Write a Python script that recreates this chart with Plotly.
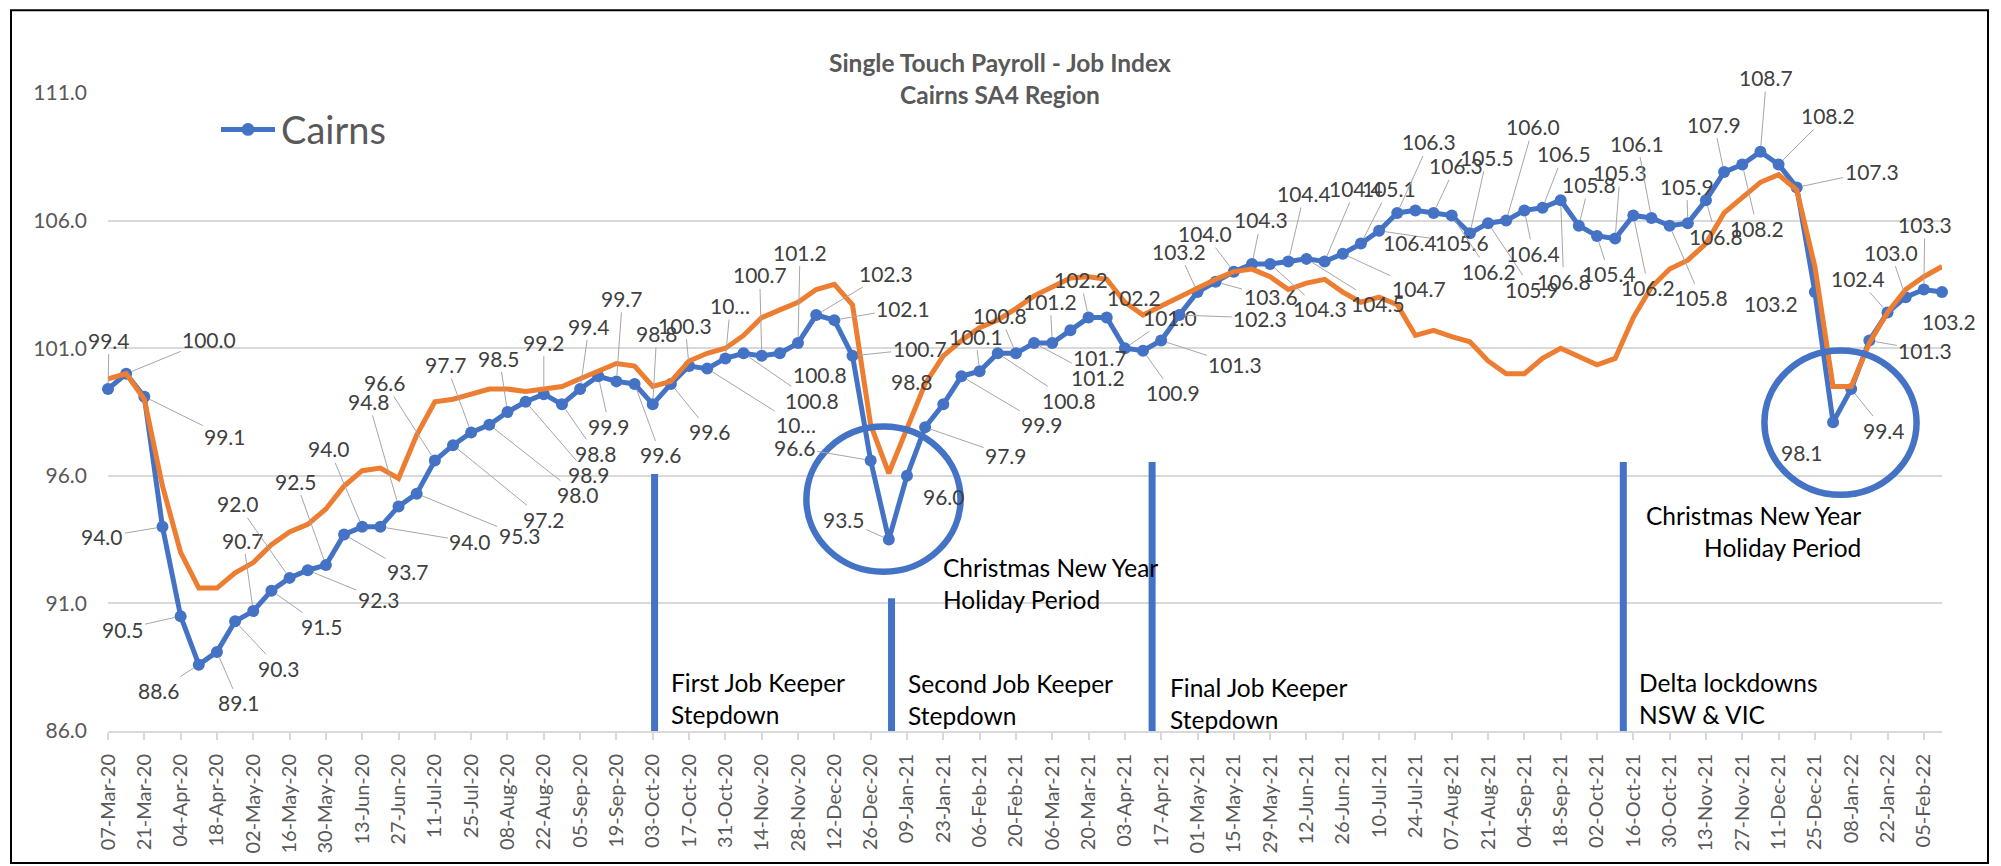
import math
import pandas as pd
import plotly.graph_objects as go

# ---------------- data ----------------
week_dates = pd.date_range("2020-03-07", periods=102, freq="7D")
categories = [d.strftime("%d-%b-%y") for d in week_dates]
tick_labels = categories[::2]

cairns = [99.4, 100.0, 99.1, 94.0, 90.5, 88.6, 89.1, 90.3, 90.7, 91.5,
          92.0, 92.3, 92.5, 93.7, 94.0, 94.0, 94.8, 95.3, 96.6, 97.2,
          97.7, 98.0, 98.5, 98.9, 99.2, 98.8, 99.4, 99.9, 99.7, 99.6,
          98.8, 99.6, 100.3, 100.2, 100.6, 100.8, 100.7, 100.8, 101.2, 102.3,
          102.1, 100.7, 96.6, 93.5, 96.0, 97.9, 98.8, 99.9, 100.1, 100.8,
          100.8, 101.2, 101.2, 101.7, 102.2, 102.2, 101.0, 100.9, 101.3, 102.3,
          103.2, 103.6, 104.0, 104.3, 104.3, 104.4, 104.5, 104.4, 104.7, 105.1,
          105.6, 106.3, 106.4, 106.3, 106.2, 105.5, 105.9, 106.0, 106.4, 106.5,
          106.8, 105.8, 105.4, 105.3, 106.2, 106.1, 105.8, 105.9, 106.8, 107.9,
          108.2, 108.7, 108.2, 107.3, 103.2, 98.1, 99.4, 101.3, 102.4, 103.0,
          103.3, 103.2]

comparison = [99.8, 100.0, 99.0, 95.6, 93.0, 91.6, 91.6, 92.2, 92.6, 93.3,
              93.8, 94.1, 94.7, 95.6, 96.2, 96.3, 95.9, 97.6, 98.9, 99.0,
              99.2, 99.4, 99.4, 99.3, 99.4, 99.5, 99.8, 100.1, 100.4, 100.3,
              99.5, 99.7, 100.5, 100.8, 101.0, 101.5, 102.2, 102.5, 102.8, 103.3,
              103.5, 102.7, 98.0, 96.1, 97.8, 99.6, 100.7, 101.3, 101.8, 102.1,
              102.55, 103.05, 103.4, 103.75, 103.8, 103.7, 102.8, 102.3, 102.65, 103.0,
              103.4, 103.7, 104.0, 104.1, 103.8, 103.3, 103.55, 103.7, 103.2, 102.8,
              103.0, 102.7, 101.5, 101.7, 101.45, 101.25, 100.5, 100.0, 100.0, 100.6,
              101.0, 100.7, 100.35, 100.6, 102.2, 103.4, 104.1, 104.45, 105.1, 106.3,
              106.9, 107.5, 107.8, 107.2, 104.2, 99.5, 99.5, 101.2, 102.4, 103.3,
              103.8, 104.2]

# labels that Excel truncated
truncated_labels = {33: "10\u2026", 34: "10\u2026"}

# event markers: category position, top value
event_positions = [30.1, 43.15, 57.5, 83.45]
event_tops = [96.07, 91.2, 96.54, 96.54]

# ---------------- layout helpers (pixel -> paper) ----------------
W, H = 2001, 866
ML, MR, MT, MB = 108, 59, 93, 125
PW, PH = W - ML - MR, H - MT - MB


def px(x):
    return (x - ML) / PW


def py(y):
    return (H - MB - y) / PH


BLUE = "#4472C4"
ORANGE = "#ED7D31"
GRID = "#D9D9D9"
TXT = "#595959"
LBL = "#404040"
FONT = "Lato"

# label offsets (pixels, dx right, dy down) for each data label
label_offsets = [
    (1, -49), (83, -34), (81, 40), (-60, 10), (-58, 13), (-40, 26), (22, 51), (44, 47), (-10, -71), (51, 36),
    (-52, -74), (71, 29), (-30, -84), (64, 37), (-33, -78), (90, 15), (-30, -105), (103, 42), (-50, -78), (91, 74),
    (-25, -68), (89, 70), (-8, -54), (63, 73), (0, -52), (34, 49), (9, -63), (11, 50), (6, -83), (26, 71),
    (4, -71), (39, 48), (-4, -41), (89, 56), (5, -53), (68, 47), (-2, -81), (40, 21), (2, -91), (70, -42),
    (69, -12), (67, -7), (-76, -13), (-45, -20), (37, 21), (81, 28), (-31, -23), (81, 48), (-4, -35), (71, 47),
    (-16, -38), (64, 34), (-2, -42), (30, 27), (-8, -38), (27, -20), (45, -31), (30, 42), (74, 24), (81, 3),
    (-19, -41), (55, 15), (-29, -38), (9, -44), (50, 45), (16, -68), (72, 45), (31, -73), (76, 35), (28, -55),
    (83, 12), (32, -71), (-5, 32), (22, -47), (37, 56), (17, -76), (44, 66), (27, -94), (9, 43), (21, -54),
    (3, 81), (10, -41), (12, 38), (5, -66), (15, 72), (-14, -75), (31, 72), (-1, -37), (10, 36), (-10, -48),
    (15, 64), (6, -74), (49, -49), (75, -16), (-44, 11), (-31, 30), (33, 41), (56, 10), (-30, -34), (-15, -45),
    (1, -65), (7, 29),
]

fig = go.Figure()

fig.add_trace(go.Scatter(
    x=categories, y=cairns, name="Cairns", mode="lines+markers",
    line=dict(color=BLUE, width=5),
    marker=dict(color=BLUE, size=12, line=dict(width=0)),
    cliponaxis=False, showlegend=False,
))
fig.add_trace(go.Scatter(
    x=categories, y=comparison, name="Comparison", mode="lines",
    line=dict(color=ORANGE, width=5),
    cliponaxis=False, showlegend=False,
))

annotations = []

# data labels
for i, (cat, v) in enumerate(zip(categories, cairns)):
    text = truncated_labels.get(i, f"{v:.1f}")
    dx, dy = label_offsets[i]
    tw = sum(11.6 if c.isdigit() else 6.0 for c in text)
    gx = max(0.0, abs(dx) - tw / 2)
    gy = max(0.0, abs(dy) - 13)
    gap = math.hypot(gx, gy)
    if gap > 21:
        annotations.append(dict(
            x=i, y=v, xref="x", yref="y", text=text, showarrow=True,
            ax=dx, ay=dy, arrowhead=0, arrowwidth=1, arrowcolor="#A6A6A6",
            standoff=6, font=dict(family=FONT, size=21, color=LBL),
        ))
    else:
        annotations.append(dict(
            x=i, y=v, xref="x", yref="y", text=text, showarrow=False,
            xshift=dx, yshift=-dy, font=dict(family=FONT, size=21, color=LBL),
        ))

# titles
annotations.append(dict(x=px(1000), y=py(45), xref="paper", yref="paper",
                        text="<b>Single Touch Payroll - Job Index</b>", showarrow=False,
                        font=dict(family=FONT, size=24.5, color=TXT)))
annotations.append(dict(x=px(1000), y=py(78), xref="paper", yref="paper",
                        text="<b>Cairns SA4 Region</b>", showarrow=False,
                        font=dict(family=FONT, size=24.5, color=TXT)))

# manual legend
annotations.append(dict(x=px(279), y=py(130), xref="paper", yref="paper",
                        xanchor="left", yanchor="middle", text="Cairns", showarrow=False,
                        font=dict(family=FONT, size=38, color=TXT)))

# event texts
event_texts = [
    ("First Job Keeper<br>Stepdown", 669, 708, "left"),
    ("Second Job Keeper<br>Stepdown", 906, 708.5, "left"),
    ("Final Job Keeper<br>Stepdown", 1168, 713, "left"),
    ("Delta lockdowns<br>NSW &amp; VIC", 1637, 707.5, "left"),
    ("Christmas New Year<br>Holiday Period", 941, 591, "left"),
    ("Christmas New Year<br>Holiday Period", 1863, 538, "right"),
]
for text, x, y, al in event_texts:
    annotations.append(dict(x=px(x), y=py(y), xref="paper", yref="paper",
                            xanchor=al, yanchor="middle", align=al, text=text,
                            showarrow=False,
                            font=dict(family=FONT, size=24.5, color="#000000")))

shapes = []
for xpos, top in zip(event_positions, event_tops):
    shapes.append(dict(type="line", xref="x", yref="y", x0=xpos, x1=xpos,
                       y0=85.95, y1=top, line=dict(color=BLUE, width=7), layer="above"))

# holiday circles
shapes.append(dict(type="circle", xref="x", yref="y", x0=38.46, x1=46.95, y0=92.24, y1=97.93,
                   line=dict(color=BLUE, width=6.5), layer="above"))
shapes.append(dict(type="circle", xref="x", yref="y", x0=91.22, x1=99.6, y0=95.26, y1=100.91,
                   line=dict(color=BLUE, width=6.5), layer="above"))

# legend symbol
shapes.append(dict(type="line", xref="paper", yref="paper", x0=px(221), x1=px(275),
                   y0=py(130), y1=py(130), line=dict(color=BLUE, width=5)))
shapes.append(dict(type="circle", xref="paper", yref="paper", x0=px(241.5), x1=px(254.5),
                   y0=py(136.5), y1=py(123.5), fillcolor=BLUE, line=dict(color=BLUE, width=0)))

# chart frame
shapes.append(dict(type="rect", xref="paper", yref="paper", x0=px(11), x1=px(1988),
                   y0=py(875), y1=py(9), line=dict(color="#000000", width=2), layer="below"))

fig.update_layout(
    width=W, height=H,
    margin=dict(l=ML, r=MR, t=MT, b=MB, pad=0),
    paper_bgcolor="white", plot_bgcolor="white",
    showlegend=False,
    annotations=annotations,
    shapes=shapes,
    font=dict(family=FONT, color=TXT),
    xaxis=dict(
        type="category", range=[0, 101],
        tickmode="array", tickvals=tick_labels, ticktext=tick_labels,
        tickangle=-90, tickfont=dict(family=FONT, size=20, color=TXT),
        showgrid=False, showline=True, linecolor=GRID, linewidth=2,
        ticks="outside", ticklen=7, tickwidth=2, tickcolor=GRID,
        ticklabelstandoff=6, zeroline=False,
    ),
    yaxis=dict(
        range=[86, 111], tick0=86, dtick=5, tickformat=".1f",
        tickfont=dict(family=FONT, size=21, color=TXT),
        showgrid=True, gridcolor=GRID, gridwidth=2,
        showline=False, zeroline=False, ticks="", ticklabelstandoff=20,
    ),
)

fig.write_html("out.html", config={"displayModeBar": False},
               post_script="document.body.style.margin='0';")
